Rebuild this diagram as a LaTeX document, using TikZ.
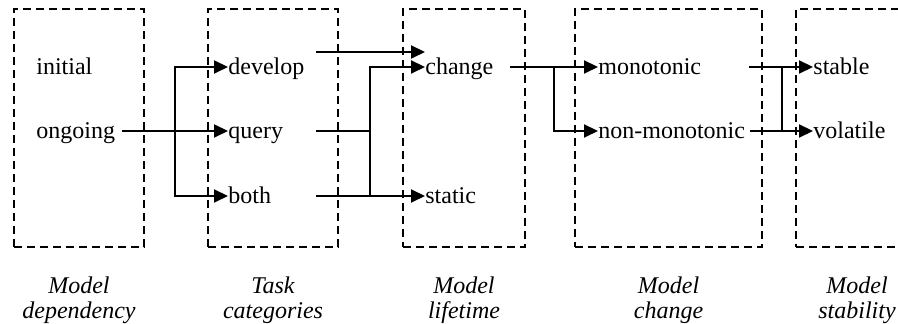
\documentclass[tikz,border=0pt]{standalone}
\usepackage{fontspec}
\setmainfont{Liberation Serif}
\usetikzlibrary{positioning}
\usetikzlibrary{arrows.meta}
\usetikzlibrary{calc}
\tikzset{
    boxn/.style = {rectangle, draw=black, line width=1pt, dash pattern=on 4pt off 2.5pt, minimum width=65pt, minimum height=119pt},
    itemn/.style = {anchor=west, inner sep=0pt, text height=8pt, text depth=0pt},
    labn/.style = {align=center, inner sep=0pt, font=\fontsize{12}{12.5}\selectfont\itshape},
    arr/.style = {-{Triangle[length=7pt,width=6.5pt]}, line width=1pt}, % arrow
    lin/.style = {-, line width=1pt}, % plain join
}

\begin{document}
\begin{tikzpicture}[x=0.5pt, y=-0.5pt, font=\fontsize{12}{12.5}\selectfont]
  \useasboundingbox (0,0) rectangle (898,324);
  % boxes
  \node[boxn] (dep) at (79,128) {};
  \node[boxn] (task) at (273,128) {};
  \node[boxn, minimum width=61pt] (life) at (464,128) {};
  \node[boxn, minimum width=93.5pt] (chg) at (668.5,128) {};
  \node[boxn, minimum width=67pt] (stab) at (863,128) {};
  % items
  \node[itemn] (initial) at (36,67) {initial};
  \node[itemn] (ongoing) at (36,131) {ongoing};
  \node[itemn] (develop) at (228,67) {develop};
  \node[itemn] (query) at (228,131) {query};
  \node[itemn] (both) at (228,196) {both};
  \node[itemn] (change) at (425,67) {change};
  \node[itemn] (static) at (425,196) {static};
  \node[itemn] (mono) at (598,67) {monotonic};
  \node[itemn] (nonmono) at (598,131) {non-monotonic};
  \node[itemn] (stable) at (813,67) {stable};
  \node[itemn] (volatile) at (813,131) {volatile};
  % columns of the connectors
  \coordinate (fork1) at (175,0);
  \coordinate (out2) at (316,0);
  \coordinate (join2) at (370,0);
  \coordinate (out3) at (510,0);
  \coordinate (fork3) at (554,0);
  \coordinate (out4) at (749,0);
  \coordinate (join4) at (782,0);
  % connectors
  \draw[arr] ([xshift=3.5pt]ongoing.east) -- (query.west);
  \draw[arr] (ongoing.east -| fork1) |- (develop.west);
  \draw[arr] (ongoing.east -| fork1) |- (both.west);
  \draw[arr] ($(develop.east -| out2)+(0,-15)$) -- ($(change.west)+(0,-15)$);
  \draw[lin] (query.east -| out2) -- (query.east -| join2);
  \draw[arr] (both.east -| out2) -- (static.west);
  \draw[arr] (both.east -| join2) |- (change.west);
  \draw[arr] (change.east -| out3) -- (mono.west);
  \draw[arr] (change.east -| fork3) |- (nonmono.west);
  \draw[arr] (mono.east -| out4) -- (stable.west);
  \draw[arr] ([xshift=2.5pt]nonmono.east) -- (volatile.west);
  \draw[lin] (nonmono.east -| join4) -- (mono.east -| join4);
  % labels
  \node[labn, below=14pt of dep] (deplab) {Model\\dependency};
  \node[labn, below=14pt of task] (tasklab) {Task\\categories};
  \node[labn, below=14pt of life] (lifelab) {Model\\lifetime};
  \node[labn, below=14pt of chg] (chglab) {Model\\change};
  \node[labn, below=14pt of stab, xshift=-3pt] (stablab) {Model\\stability};
\end{tikzpicture}
\end{document}
